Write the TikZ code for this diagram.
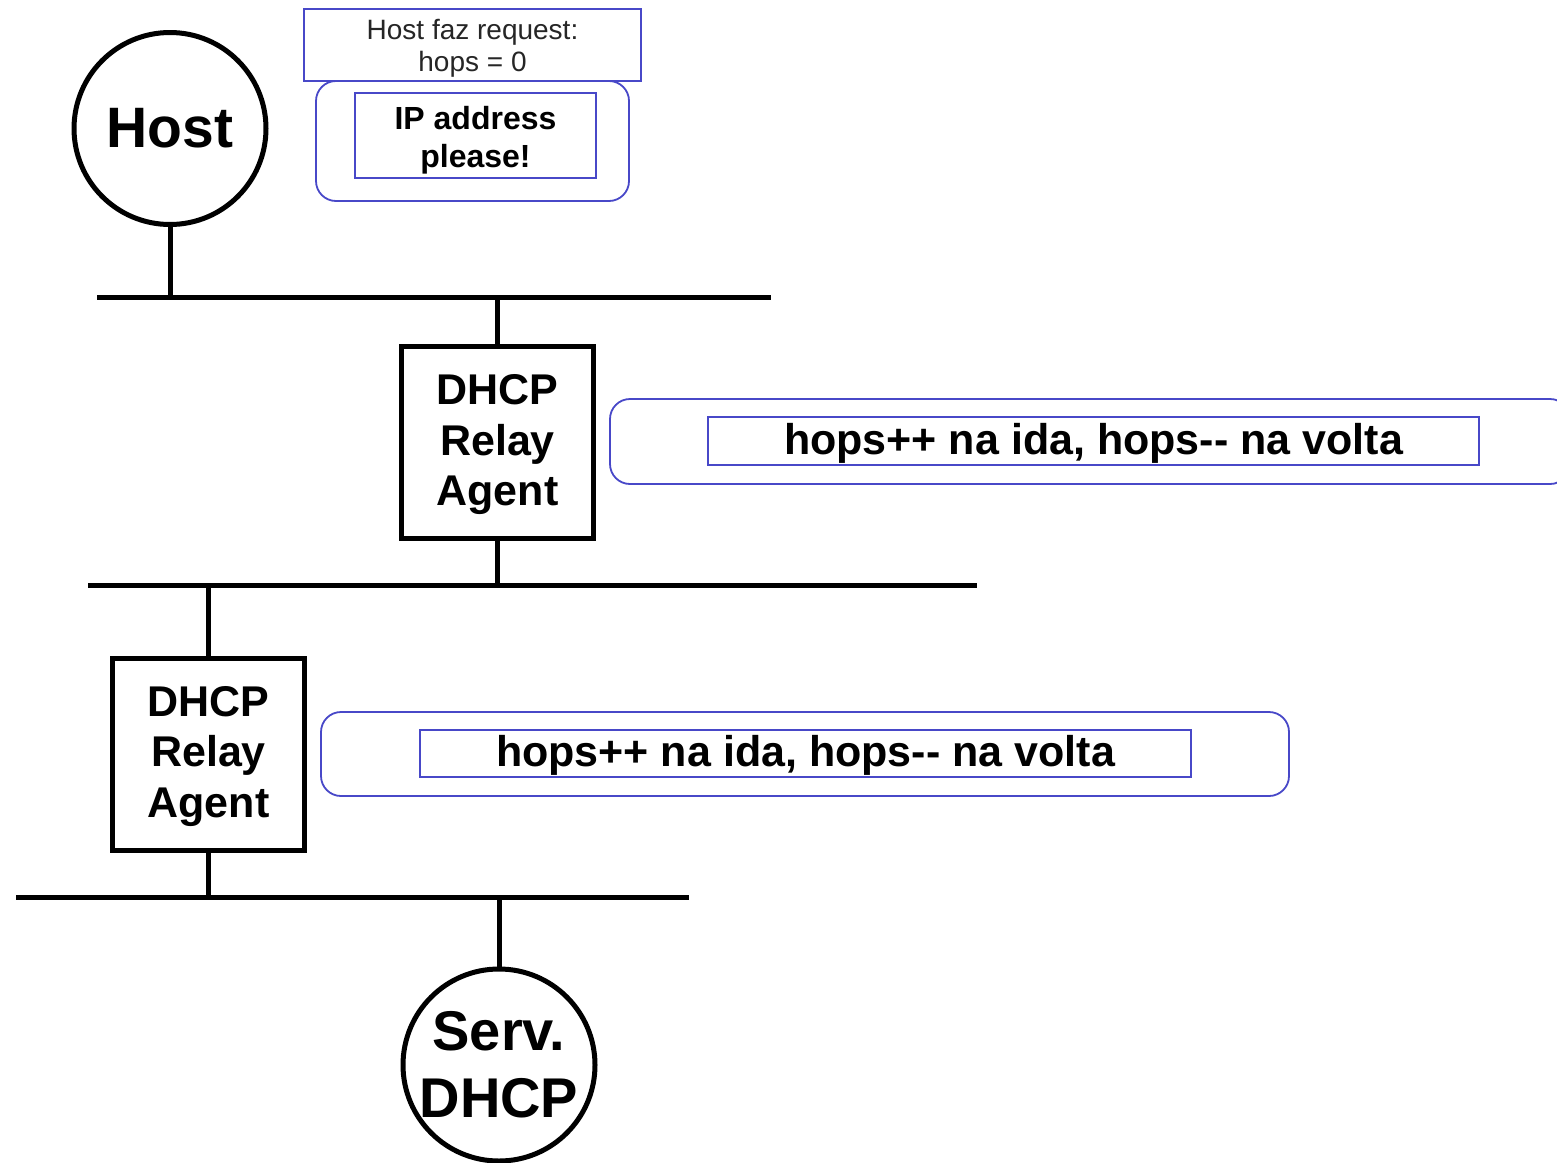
\documentclass[tikz,border=0pt]{standalone}
\usepackage{fontspec}
\setmainfont{Liberation Sans}
\begin{document}
\begin{tikzpicture}[x=1pt,y=-1pt,
  thick line/.style={line width=5pt, black},
  relaybox/.style={draw, line width=5pt, minimum width=192pt, minimum height=192pt, inner sep=0pt},
  endpoint/.style={draw, circle, line width=5pt, minimum size=192pt, inner sep=0pt, align=center, font=\fontsize{57}{62}\selectfont\bfseries},
  bluebox/.style={draw=msgblue, line width=1.8pt, inner sep=0pt},
  blueround/.style={draw=msgblue, line width=1.8pt, rounded corners=20pt},
  label text/.style={inner sep=0pt, align=center}
]
\definecolor{msgblue}{RGB}{72,72,200}
\useasboundingbox (0,0) rectangle (1557,1162);
\clip (0,0) rectangle (1557,1162);
\fill[white] (0,0) rectangle (1557,1162);

% buses
\coordinate (b1a) at (97,297);  \coordinate (b1b) at (771,297);
\coordinate (b2a) at (88,585);  \coordinate (b2b) at (977,585);
\coordinate (b3a) at (16,897);  \coordinate (b3b) at (689,897);
\draw[thick line] (b1a) -- (b1b);
\draw[thick line] (b2a) -- (b2b);
\draw[thick line] (b3a) -- (b3b);

% nodes
\node[endpoint] (host) at (170,128.5) {Host};
\node[relaybox] (relay1) at (497.5,442.5) {};
\node[label text, font=\fontsize{43}{50.5}\selectfont\bfseries] (relay1txt) at ([yshift=-2.5pt]relay1.center) {DHCP\\Relay\\Agent};
\node[relaybox] (relay2) at (208.5,754) {};
\node[label text, font=\fontsize{43}{50.5}\selectfont\bfseries] (relay2txt) at ([yshift=-2.5pt]relay2.center) {DHCP\\Relay\\Agent};
\node[endpoint, font=\fontsize{56}{67}\selectfont\bfseries] (serv) at (499,1065) {Serv.\\DHCP};

% drops
\draw[thick line] (host.south) -- (host.south |- b1a);
\draw[thick line] (relay1.north) -- (relay1.north |- b1a);
\draw[thick line] (relay1.south) -- (relay1.south |- b2a);
\draw[thick line] (relay2.north) -- (relay2.north |- b2a);
\draw[thick line] (relay2.south) -- (relay2.south |- b3a);
\draw[thick line] (serv.north) -- (serv.north |- b3a);

% message boxes
\node[blueround, minimum width=313pt, minimum height=120pt] (msgframe) at (472.5,141) {};
\node[bluebox, fill=white, minimum width=337pt, minimum height=72pt] (req) at (472.5,45) {};
\node[label text, text=black!85, font=\fontsize{28}{32}\selectfont] (reqtxt) at ([yshift=-3pt]req.center) {Host faz request:\\hops = 0};
\node[bluebox, minimum width=241pt, minimum height=85pt] (ip) at (475.5,135.5) {};
\node[label text, font=\fontsize{32}{38}\selectfont\bfseries] (iptxt) at ([yshift=-5pt]ip.center) {IP address\\please!};

\node[blueround, minimum width=960pt, minimum height=85pt] (frame1) at (1090,441.5) {};
\node[bluebox, minimum width=771pt, minimum height=48pt] (hops1) at (1093.5,441) {};
\node[label text, font=\fontsize{43}{48}\selectfont\bfseries] (hops1txt) at ([yshift=-2pt]hops1.center) {hops++ na ida, hops-{}- na volta};

\node[blueround, minimum width=968pt, minimum height=84pt] (frame2) at (805,754) {};
\node[bluebox, minimum width=771pt, minimum height=47pt] (hops2) at (805.5,753.5) {};
\node[label text, font=\fontsize{43}{48}\selectfont\bfseries] (hops2txt) at ([yshift=-2pt]hops2.center) {hops++ na ida, hops-{}- na volta};
\end{tikzpicture}
\end{document}
